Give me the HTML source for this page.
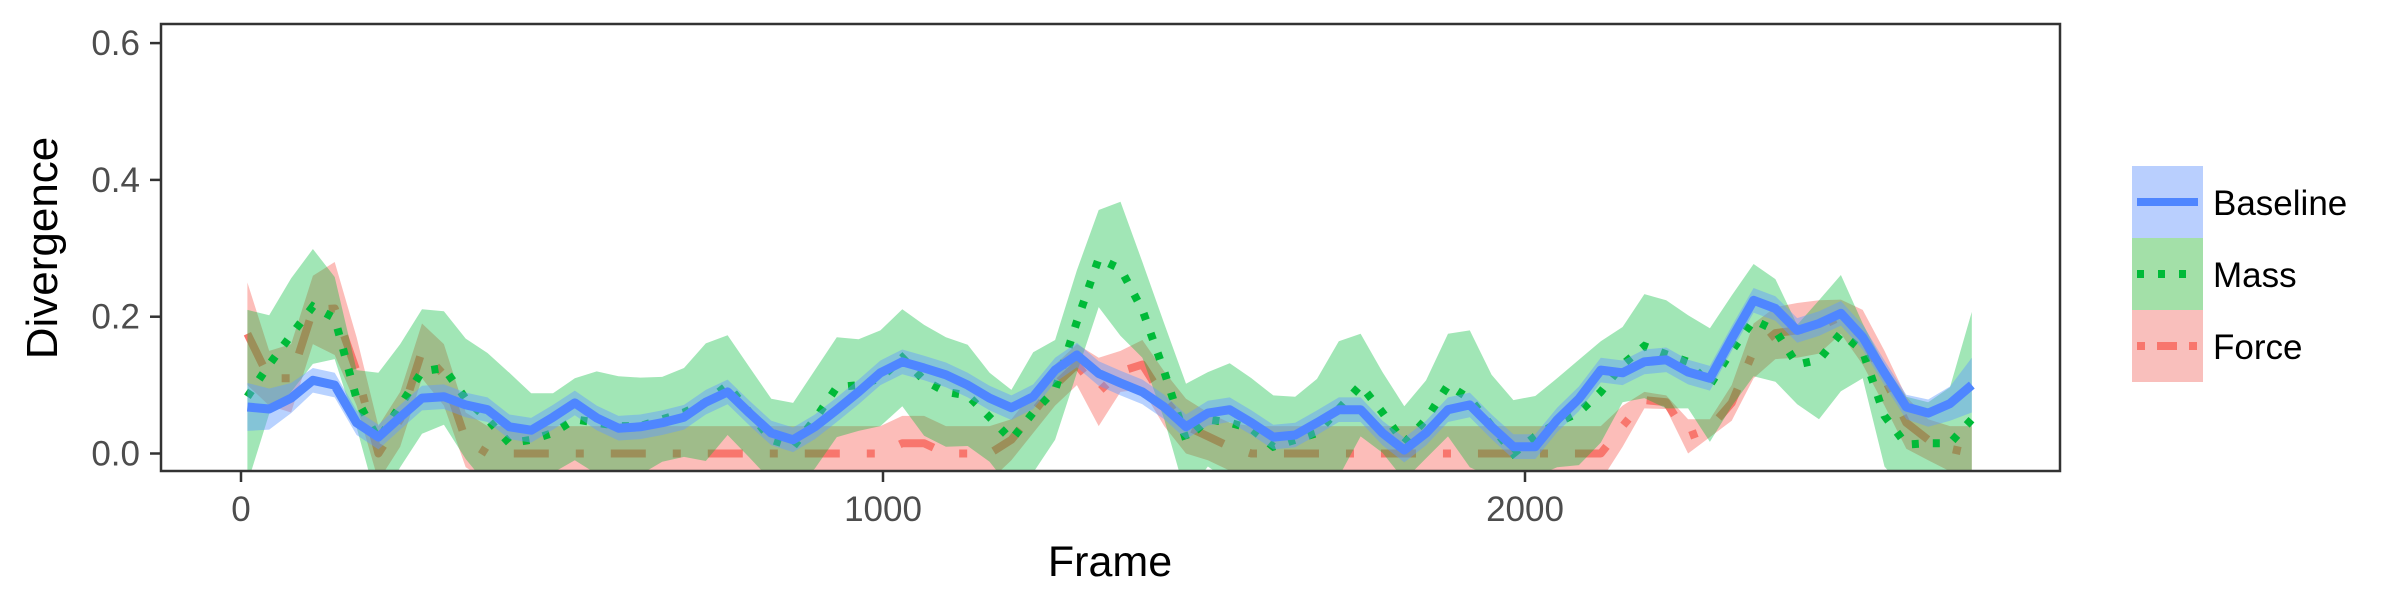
<!DOCTYPE html>
<html><head><meta charset="utf-8">
<style>
html,body{margin:0;padding:0;background:#fff;}
svg{display:block;font-family:"Liberation Sans",Arial,sans-serif;}
</style></head>
<body>
<svg id="chart" width="2400" height="600" viewBox="0 0 2400 600">
  <defs><clipPath id="clip"><rect x="162" y="25" width="1897" height="445"/></clipPath></defs>
  <g id="plot" clip-path="url(#clip)"></g>
  <rect x="161" y="24" width="1899" height="447" fill="none" stroke="#333" stroke-width="2.5"/>
  <g id="axes"></g>
  <text x="1110" y="576" font-size="43" text-anchor="middle" fill="#000">Frame</text>
  <text transform="translate(57,248) rotate(-90)" font-size="44" text-anchor="middle" fill="#000">Divergence</text>
  <g id="legend"></g>
</svg>
<script>
const baseline = [.068,.065,.081,.107,.100,.045,.024,.053,.081,.083,
.071,.064,.039,.034,.053,.074,.052,.037,.039,.045,
.053,.075,.090,.059,.030,.020,.039,.064,.090,.118,
.134,.125,.115,.100,.081,.067,.083,.122,.144,.117,
.103,.090,.068,.039,.059,.064,.045,.024,.027,.045,
.064,.064,.030,.005,.030,.064,.071,.039,.010,.010,
.049,.080,.122,.118,.134,.137,.119,.110,.168,.224,
.212,.180,.190,.205,.170,.118,.068,.059,.073,.100];
const baselineSe = [.035,.03,.022,.018,.018,.018,.018,.018,.018,.018,
.018,.018,.018,.018,.018,.018,.018,.018,.018,.018,
.018,.018,.018,.018,.018,.018,.018,.018,.018,.018,
.018,.018,.018,.018,.018,.018,.018,.018,.018,.018,
.018,.018,.018,.018,.018,.018,.018,.018,.018,.018,
.018,.018,.018,.018,.018,.018,.018,.018,.018,.018,
.018,.018,.018,.018,.018,.018,.018,.018,.018,.018,
.018,.018,.018,.018,.018,.018,.018,.02,.025,.04];
const mass = [.083,.13,.173,.215,.198,.08,.02,.07,.12,.125,
.08,.05,.015,.02,.03,.05,.045,.04,.04,.05,
.06,.075,.10,.06,.02,.01,.05,.097,.10,.11,
.14,.107,.09,.085,.053,.02,.06,.093,.193,.285,
.27,.21,.12,.02,.05,.045,.036,.01,.02,.03,
.065,.10,.06,.015,.05,.10,.08,.04,.0,.025,
.045,.06,.09,.13,.157,.145,.134,.10,.15,.195,
.18,.13,.137,.176,.15,.055,.013,.015,.015,.05];
const massUpper = [.21,.202,.256,.299,.258,.122,.118,.16,.211,.208,
.168,.147,.118,.088,.088,.110,.12,.113,.111,.112,
.125,.161,.173,.126,.080,.074,.122,.170,.167,.180,
.211,.188,.170,.159,.118,.093,.148,.166,.268,.356,
.368,.28,.19,.102,.119,.132,.110,.085,.083,.109,
.164,.175,.119,.069,.107,.175,.180,.115,.078,.084,
.110,.137,.164,.185,.233,.224,.202,.183,.231,.277,
.255,.188,.224,.261,.190,.129,.083,.075,.097,.207];
const force = [.175,.11,.11,.21,.212,.12,.0,.05,.15,.115,
.02,0,0,0,0,0,0,0,0,0,
0,0,0,0,0,0,0,0,0,0,
.015,.015,0,0,0,.02,.06,.1,.13,.09,
.12,.13,.08,.04,.025,.01,0,0,0,0,
0,0,0,0,0,0,0,0,0,0,
0,0,0,.04,.078,.075,.025,.037,.074,.15,
.176,.18,.185,.2,.17,.11,.045,.02,.007,0];
const forceUpper = [.25,.15,.16,.26,.28,.17,.04,.09,.19,.16,
.06,.04,.04,.04,.04,.04,.04,.04,.04,.04,
.04,.04,.04,.04,.04,.04,.04,.04,.04,.04,
.055,.055,.04,.04,.04,.05,.09,.13,.16,.14,
.15,.166,.12,.08,.06,.045,.04,.04,.04,.04,
.04,.04,.04,.04,.04,.04,.04,.04,.04,.04,
.04,.04,.04,.07,.09,.085,.05,.05,.10,.19,
.214,.22,.224,.225,.21,.15,.083,.05,.04,.04];
const frameStart = 10, frameStep = 34;
const yTicks = [0.0, 0.2, 0.4, 0.6];
const yTickLabels = ["0.0","0.2","0.4","0.6"];
const xTicks = [0, 1000, 2000];
const xTickLabels = ["0","1000","2000"];
const seriesNames = ["Baseline","Mass","Force"];

const NS = "http://www.w3.org/2000/svg";
function xs(f){ return 241 + f * 0.642; }
function ys(v){ return 453.5 - v * 684; }
function mk(tag, attrs, parent){ const e = document.createElementNS(NS, tag); for (const k in attrs) e.setAttribute(k, attrs[k]); parent.appendChild(e); return e; }
const frames = baseline.map((_, i) => frameStart + frameStep * i);

function ribbonPath(lo, hi){
  let d = "";
  for (let i = 0; i < frames.length; i++) d += (i ? "L" : "M") + xs(frames[i]).toFixed(1) + "," + ys(hi[i]).toFixed(1);
  for (let i = frames.length - 1; i >= 0; i--) d += "L" + xs(frames[i]).toFixed(1) + "," + ys(lo[i]).toFixed(1);
  return d + "Z";
}
function linePath(vals){
  let d = "";
  for (let i = 0; i < vals.length; i++) d += (i ? "L" : "M") + xs(frames[i]).toFixed(1) + "," + ys(vals[i]).toFixed(1);
  return d;
}
const plot = document.getElementById("plot");

const bLo = baseline.map((v, i) => v - baselineSe[i]), bHi = baseline.map((v, i) => v + baselineSe[i]);
const mLo = mass.map((v, i) => 2 * v - massUpper[i]);
const fLo = force.map((v, i) => 2 * v - forceUpper[i]);

const r3 = mk("path", {d: ribbonPath(fLo, forceUpper), fill: "#F8766D", "fill-opacity": 0.48}, plot);


const l3 = mk("path", {d: linePath(force), fill: "none", stroke: "#F8766D", "stroke-width": 8, "stroke-dasharray": "35 27 8 27", "stroke-linejoin": "round"}, plot);


const r2 = mk("path", {d: ribbonPath(mLo, massUpper), fill: "#00BA38", "fill-opacity": 0.37}, plot);


const l2 = mk("path", {d: linePath(mass), fill: "none", stroke: "#00BA38", "stroke-width": 8, "stroke-dasharray": "7 14"}, plot);


const r1 = mk("path", {d: ribbonPath(bLo, bHi), fill: "#619CFF", "fill-opacity": 0.45}, plot);


const l1 = mk("path", {d: linePath(baseline), fill: "none", stroke: "#4F86FF", "stroke-width": 9, "stroke-linejoin": "round"}, plot);



const ax = document.getElementById("axes");
yTicks.forEach((v, i) => {
  const t = mk("line", {x1: 150, x2: 161, y1: ys(v), y2: ys(v), stroke: "#333", "stroke-width": 2.5}, ax);
  
  
  const l = mk("text", {x: 140, y: ys(v) + 12, "font-size": 35, "text-anchor": "end", fill: "#4d4d4d"}, ax);
  l.textContent = yTickLabels[i];
  
  
});
xTicks.forEach((f, i) => {
  const t = mk("line", {x1: xs(f), x2: xs(f), y1: 471, y2: 482, stroke: "#333", "stroke-width": 2.5}, ax);
  
  
  const l = mk("text", {x: xs(f), y: 521, "font-size": 35, "text-anchor": "middle", fill: "#4d4d4d"}, ax);
  l.textContent = xTickLabels[i];
  
  
});

const lg = document.getElementById("legend");
const keyFill = ["#b9cffe", "#a3e0a8", "#f9bfbc"];
const keyStroke = ["#4F86FF", "#00BA38", "#F8766D"];
const keyDash = ["none", "7 14", "8 12 20 12"];
seriesNames.forEach((name, i) => {
  const y0 = 166 + i * 72;
  const k = mk("rect", {x: 2132, y: y0, width: 71, height: 72, fill: keyFill[i]}, lg);
  
  
  const s = mk("line", {x1: 2137, x2: 2198, y1: y0 + 36, y2: y0 + 36, stroke: keyStroke[i], "stroke-width": 8, "stroke-dasharray": keyDash[i]}, lg);
  
  
  const t = mk("text", {x: 2213, y: y0 + 49, "font-size": 35, fill: "#000"}, lg);
  t.textContent = name;
  
  
});
</script>
</body></html>
